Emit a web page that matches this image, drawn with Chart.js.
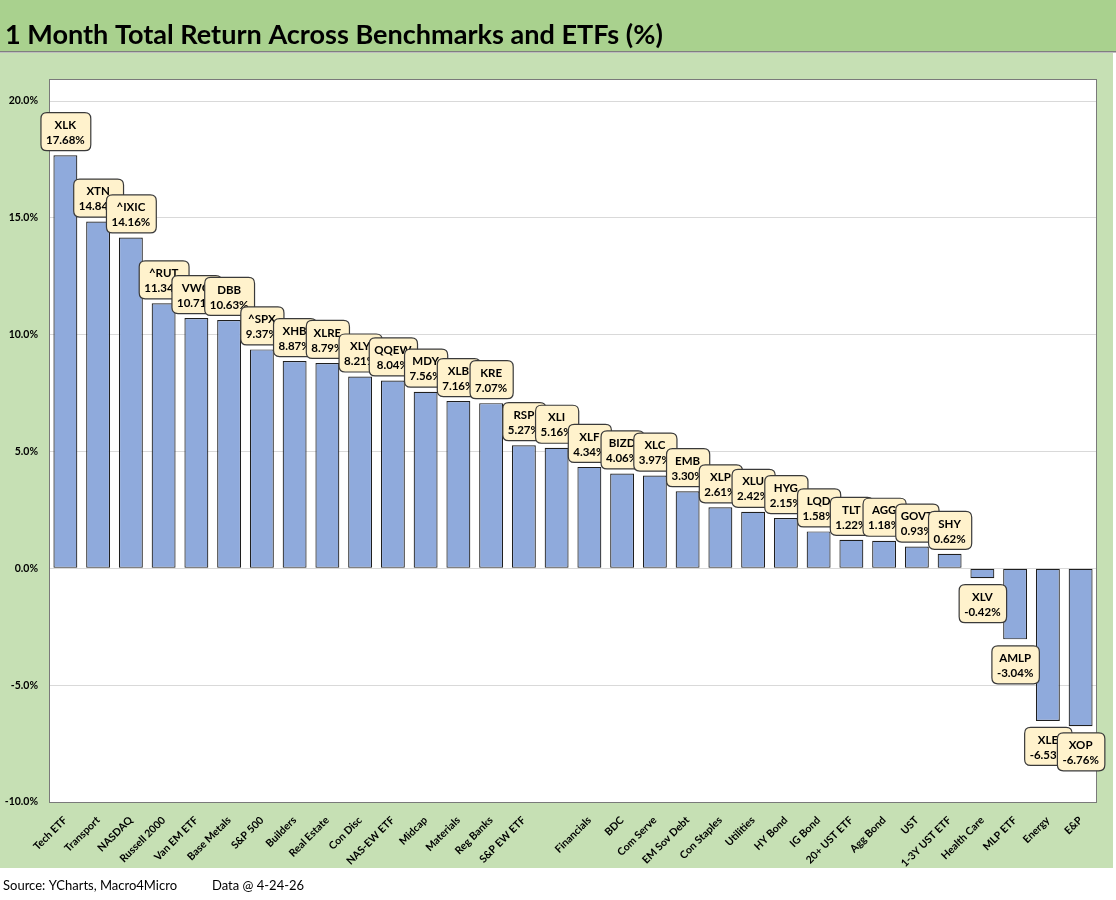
<!DOCTYPE html>
<html>
<head>
<meta charset="utf-8">
<title>1 Month Total Return</title>
<script src="https://cdn.jsdelivr.net/npm/chart.js@4.4.1/dist/chart.umd.min.js"></script>
<style>
    body{ margin:0; background:#fff; }
    canvas{ display:block; }
</style>
</head>
<body>
<canvas id="graf" width="1116" height="900"></canvas>
<script>

// dados do grafico
var categorias = ['Tech ETF','Transport','NASDAQ','Russell 2000','Van EM ETF','Base Metals','S&P 500','Builders',
    'Real Estate','Con Disc','NAS-EW ETF','Midcap','Materials','Reg Banks','S&P EW ETF','','Financials','BDC',
    'Com Serve','EM Sov Debt','Con Staples','Utilities','HY Bond','IG Bond','20+ UST ETF','Agg Bond','UST',
    '1-3Y UST ETF','Health Care','MLP ETF','Energy','E&P']

var tickers = ['XLK','XTN','^IXIC','^RUT','VWO','DBB','^SPX','XHB','XLRE','XLY','QQEW','MDY','XLB','KRE','RSP',
    'XLI','XLF','BIZD','XLC','EMB','XLP','XLU','HYG','LQD','TLT','AGG','GOVT','SHY','XLV','AMLP','XLE','XOP']

var retornos = [17.68,14.84,14.16,11.34,10.71,10.63,9.37,8.87,8.79,8.21,8.04,7.56,7.16,7.07,5.27,5.16,4.34,
    4.06,3.97,3.30,2.61,2.42,2.15,1.58,1.22,1.18,0.93,0.62,-0.42,-3.04,-6.53,-6.76]

var ticksY = [-10,-5,0,5,10,15,20]

var titulo = '1 Month Total Return Across Benchmarks and ETFs (%)'
var fonte = 'Source: YCharts, Macro4Micro'
var dataRef = 'Data @ 4-24-26'

var FONT = 'Lato, "Open Sans", sans-serif'

/**
 * desenha os fundos (faixa do titulo, area verde e area branca do plot)
 */
var fundoPlugin = {
    id: 'fundo',
    beforeDraw: function(chart){
        var ctx = chart.ctx
        var a = chart.chartArea
        ctx.save()
        ctx.fillStyle = '#ffffff'
        ctx.fillRect(0, 0, chart.width, chart.height)

        // faixa do titulo
        ctx.fillStyle = '#a9d18e'
        ctx.fillRect(0, 0, 1116, 51)
        ctx.fillStyle = '#7f7f7f'
        ctx.fillRect(0, 51, 1116, 1.5)

        // area verde
        ctx.fillStyle = '#c6e0b4'
        ctx.fillRect(0, 53, 1113, 815)

        // plot branco
        ctx.fillStyle = '#ffffff'
        ctx.fillRect(a.left, 79, a.right - a.left, a.bottom - 79)

        // titulo
        var tam = 28
        ctx.font = 'bold ' + tam + 'px ' + FONT
        var w = ctx.measureText(titulo).width
        tam = tam * 658 / w
        ctx.font = 'bold ' + tam.toFixed(2) + 'px ' + FONT
        ctx.fillStyle = '#000000'
        ctx.textBaseline = 'alphabetic'
        ctx.textAlign = 'left'
        ctx.fillText(titulo, 5, 44)

        // rodape
        ctx.font = '13px ' + FONT
        ctx.fillText(fonte, 3, 890)
        ctx.fillText(dataRef, 212, 890)
        ctx.restore()
    },
    beforeDatasetsDraw: function(chart){
        var ctx = chart.ctx
        var a = chart.chartArea
        ctx.save()
        ctx.strokeStyle = '#7a7a7a'
        ctx.lineWidth = 1
        ctx.strokeRect(a.left + 0.5, 79.5, a.right - a.left - 1, a.bottom - 79)
        ctx.restore()
    }
}

/**
 * desenha as caixas com ticker e retorno sobre cada barra
 */
function caixa(ctx, x, y, w, h, r){
    ctx.beginPath()
    ctx.moveTo(x + r, y)
    ctx.lineTo(x + w - r, y)
    ctx.quadraticCurveTo(x + w, y, x + w, y + r)
    ctx.lineTo(x + w, y + h - r)
    ctx.quadraticCurveTo(x + w, y + h, x + w - r, y + h)
    ctx.lineTo(x + r, y + h)
    ctx.quadraticCurveTo(x, y + h, x, y + h - r)
    ctx.lineTo(x, y + r)
    ctx.quadraticCurveTo(x, y, x + r, y)
    ctx.closePath()
}

var rotulosPlugin = {
    id: 'rotulos',
    afterDatasetsDraw: function(chart){
        var ctx = chart.ctx
        var meta = chart.getDatasetMeta(0)
        ctx.save()
        ctx.font = 'bold 11.5px ' + FONT
        ctx.textAlign = 'center'
        ctx.textBaseline = 'middle'
        meta.data.forEach(function(bar, i){
            var v = retornos[i]
            var txt = v.toFixed(2) + '%'
            var w = Math.max(ctx.measureText(txt).width, ctx.measureText(tickers[i]).width) + 11
            var h = 38
            var top = v >= 0 ? bar.y - 5 - h : bar.y + 6
            var left = bar.x - w / 2
            caixa(ctx, left + 0.5, top + 0.5, w, h, 6)
            ctx.fillStyle = '#fff2cc'
            ctx.fill()
            ctx.strokeStyle = '#3a3a3a'
            ctx.lineWidth = 1.2
            ctx.stroke()
            ctx.fillStyle = '#000000'
            ctx.fillText(tickers[i], bar.x, top + 13)
            ctx.fillText(txt, bar.x, top + 28)
        })
        ctx.restore()
    }
}

function gerarGrafico(){
    try{
        new Chart(
            document.getElementById('graf').getContext('2d'),
            {
                type: 'bar',
                data: {
                    labels: categorias,
                    datasets: [
                        {
                            label: '1 Month Total Return',
                            data: retornos,
                            backgroundColor: '#8faadc',
                            borderColor: '#1f1f1f',
                            borderWidth: 1.2,
                            borderSkipped: false,
                            barPercentage: 0.73,
                            categoryPercentage: 1
                        }
                    ]
                },
                plugins: [fundoPlugin, rotulosPlugin],
                options: {
                    responsive: false,
                    animation: false,
                    devicePixelRatio: 1,
                    layout: {
                        padding: { left: 0, right: 19, top: 101, bottom: 0 }
                    },
                    plugins: {
                        legend: { display: false },
                        title: { display: false },
                        tooltip: { enabled: false }
                    },
                    scales: {
                        x: {
                            grid: { display: false },
                            border: { display: false },
                            ticks: {
                                autoSkip: false,
                                maxRotation: 45,
                                minRotation: 45,
                                padding: 4,
                                color: '#000000',
                                font: { family: FONT, size: 10.5, weight: 'bold' }
                            },
                            afterFit: function(s){ s.height = 98 }
                        },
                        y: {
                            min: -10,
                            max: 20,
                            afterBuildTicks: function(s){
                                s.ticks = ticksY.map(function(v){ return { value: v } })
                            },
                            grid: { color: '#d9d9d9', lineWidth: 1, drawTicks: false },
                            border: { display: false },
                            ticks: {
                                padding: 11,
                                color: '#000000',
                                font: { family: FONT, size: 10.5, weight: 'bold' },
                                callback: function(v){ return v.toFixed(1) + '%' }
                            },
                            afterFit: function(s){ s.width = 49 }
                        }
                    }
                }
            }
        )
    }catch(e){}
}

gerarGrafico()
</script>
</body>
</html>
